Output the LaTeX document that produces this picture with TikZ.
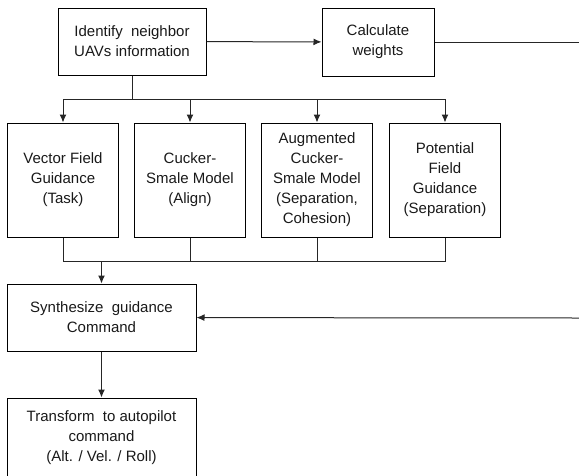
\documentclass[tikz,border=0pt]{standalone}
\usepackage{fontspec}
\setmainfont{Liberation Sans}
\usetikzlibrary{arrows.meta}

\begin{document}
\begin{tikzpicture}[x=1pt, y=-1pt]

%-------------------------------------------------
% Styles
%-------------------------------------------------
\tikzset{
  block/.style={draw=black, line width=1pt, rectangle, align=center,
    text=black!90, font=\fontsize{15}{20}\selectfont, inner sep=2pt},
  topbox/.style={block, minimum width=148pt, minimum height=67pt},
  rowbox/.style={block, minimum width=111pt, minimum height=114pt},
  lowbox/.style={block, minimum width=189pt, minimum height=67pt},
  link/.style={draw=black!85, line width=1pt},
  arr/.style={link, -{Latex[length=8pt, width=7pt]}}
}

\useasboundingbox (0,0) rectangle (579,475);

%-------------------------------------------------
% Top row
%-------------------------------------------------
\node[topbox] (ident) at (132,41.5) {Identify~ neighbor\\UAVs information};
\node[topbox, minimum width=112pt, minimum height=68pt] (calc) at (378,42) {Calculate\\weights};

\coordinate (outTop) at (579,42);
\coordinate (split) at (132,99);

%-------------------------------------------------
% Guidance models
%-------------------------------------------------
\node[rowbox] (vfg) at (63,180) {Vector Field\\Guidance\\(Task)};
\node[rowbox] (csm) at (190,180) {Cucker-\\Smale Model\\(Align)};
\node[rowbox] (acsm) at (317,180) {Augmented\\Cucker-\\Smale Model\\(Separation,\\Cohesion)};
\node[rowbox] (pfg) at (445,180) {Potential\\Field\\Guidance\\(Separation)};

\coordinate (merge) at (101.5,261);

%-------------------------------------------------
% Bottom column
%-------------------------------------------------
\node[lowbox] (synth) at (101.5,317.5) {Synthesize~ guidance\\Command};
\node[lowbox, minimum height=80pt] (trans) at (101.5,438) {Transform~ to autopilot\\command\\(Alt. / Vel. / Roll)};

\coordinate (inMid) at (579,318);

%-------------------------------------------------
% Connectors
%-------------------------------------------------
\draw[arr] (ident) -- (calc);
\draw[link] (calc) -- (outTop);

\draw[link] (ident) -- (split);
\foreach \n in {vfg,csm,acsm,pfg} {
  \draw[arr] (split) -| (\n);
}

\foreach \n in {vfg,csm,acsm,pfg} {
  \draw[link] (\n) |- (merge);
}
\draw[arr] (merge) -- (synth);

\draw[arr] (inMid) -- (synth);
\draw[arr] (synth) -- (trans);

\end{tikzpicture}
\end{document}
